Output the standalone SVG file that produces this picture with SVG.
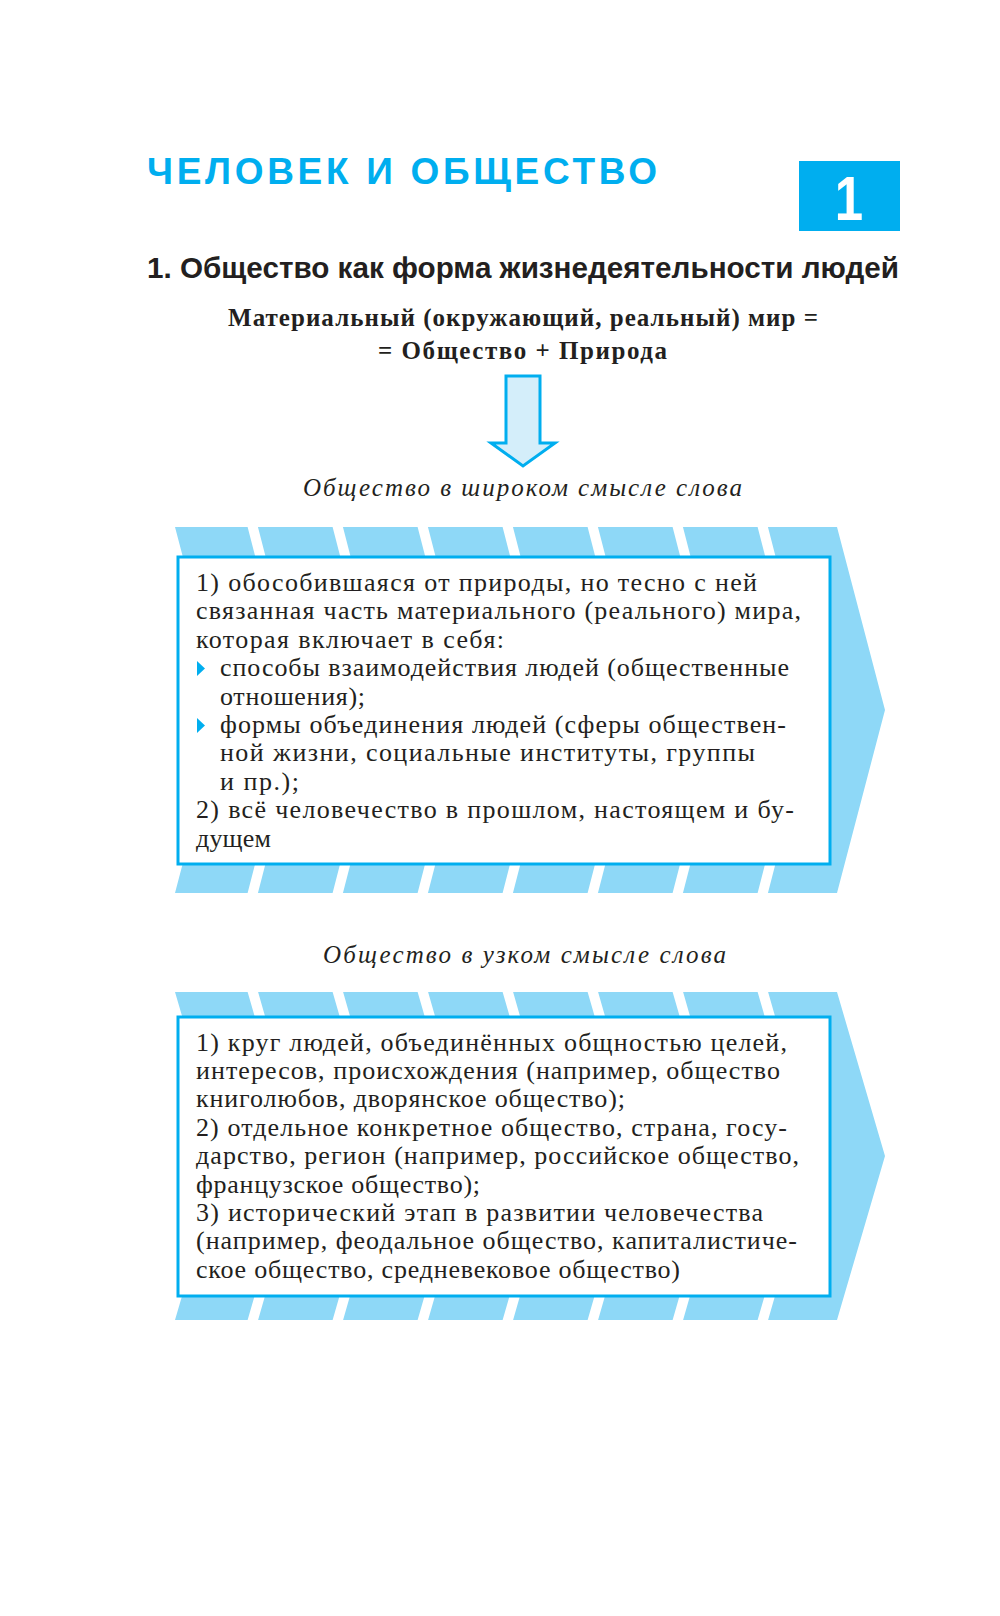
<svg xmlns="http://www.w3.org/2000/svg" width="1000" height="1616" viewBox="0 0 1000 1616">
<defs>
<style>
.title{font-family:"Liberation Sans",Arial,sans-serif;font-weight:bold;font-size:37px;fill:#00AEEF}
.badge{font-family:"Liberation Sans",Arial,sans-serif;font-weight:bold;font-size:60px;fill:#fff}
.head{font-family:"Liberation Sans",Arial,sans-serif;font-weight:bold;font-size:30px;fill:#231F20}
.formula{font-family:"Liberation Serif","Times New Roman",serif;font-weight:bold;font-size:25px;fill:#231F20}
.label{font-family:"Liberation Serif","Times New Roman",serif;font-style:italic;font-size:25px;fill:#231F20}
.body{font-family:"Liberation Serif","Times New Roman",serif;font-size:26px;fill:#231F20}
.band{fill:#8ED8F7}
.gap{fill:none;stroke:#fff;stroke-width:10}
.box{fill:#fff;stroke:#00AEEF;stroke-width:3}
.bullet{fill:#00AEEF}
.arrow{fill:#D4EEFA;stroke:#00AEEF;stroke-width:3;stroke-linejoin:miter}
</style>
</defs>
<rect width="1000" height="1616" fill="#fff"/>

<g id="title">
<text class="title" x="147" y="184" textLength="510" lengthAdjust="spacing">ЧЕЛОВЕК И ОБЩЕСТВО</text>
</g>
<g id="chapter-badge">
<rect x="799" y="161" width="101" height="70" fill="#00AEEF"/>
<text class="badge" transform="translate(849,220) scale(0.85,1.05)" x="0" y="0" text-anchor="middle">1</text>
</g>
<g id="heading">
<text class="head" x="147" y="278" textLength="752" lengthAdjust="spacingAndGlyphs">1. Общество как форма жизнедеятельности людей</text>
</g>
<g id="formula">
<text class="formula" x="228" y="326" textLength="590" lengthAdjust="spacing">Материальный (окружающий, реальный) мир =</text>
<text class="formula" x="378" y="359" textLength="289" lengthAdjust="spacing">= Общество + Природа</text>
</g>

<g id="connectors">
<polygon class="arrow" points="506,376 540,376 540,443 555,443 523,466 491,443 506,443"/>
</g>

<g id="label-broad">
<text class="label" x="303" y="496" textLength="439" lengthAdjust="spacing">Общество в широком смысле слова</text>
</g>

<g id="society-broad">
<polygon class="band" points="175,527 837,527 885,710 837,893 175,893 223,710"/>
<polyline class="gap" points="252,524 300,710 252,896"/>
<polyline class="gap" points="337,524 385,710 337,896"/>
<polyline class="gap" points="422,524 470,710 422,896"/>
<polyline class="gap" points="507,524 555,710 507,896"/>
<polyline class="gap" points="592,524 640,710 592,896"/>
<polyline class="gap" points="677,524 725,710 677,896"/>
<polyline class="gap" points="762,524 810,710 762,896"/>
<rect class="box" x="178" y="557" width="652" height="307"/>
<text class="body" x="196" y="591" textLength="561" lengthAdjust="spacing">1) обособившаяся от природы, но тесно с ней</text>
<text class="body" x="196" y="619.4" textLength="605" lengthAdjust="spacing">связанная часть материального (реального) мира,</text>
<text class="body" x="196" y="647.8" textLength="308" lengthAdjust="spacing">которая включает в себя:</text>
<polygon class="bullet" points="197,661 205,668.5 197,676"/>
<text class="body" x="220" y="676.2" textLength="569" lengthAdjust="spacing">способы взаимодействия людей (общественные</text>
<text class="body" x="220" y="704.6" textLength="145" lengthAdjust="spacing">отношения);</text>
<polygon class="bullet" points="197,718 205,725.5 197,733"/>
<text class="body" x="220" y="733" textLength="566" lengthAdjust="spacing">формы объединения людей (сферы обществен-</text>
<text class="body" x="220" y="761.4" textLength="535" lengthAdjust="spacing">ной жизни, социальные институты, группы</text>
<text class="body" x="220" y="789.8" textLength="79" lengthAdjust="spacing">и пр.);</text>
<text class="body" x="196" y="818.2" textLength="598" lengthAdjust="spacing">2) всё человечество в прошлом, настоящем и бу-</text>
<text class="body" x="196" y="846.6" textLength="75" lengthAdjust="spacing">дущем</text>
</g>

<g id="label-narrow">
<text class="label" x="323" y="963" textLength="403" lengthAdjust="spacing">Общество в узком смысле слова</text>
</g>

<g id="society-narrow">
<polygon class="band" points="175,992 837,992 885,1156 837,1320 175,1320 223,1156"/>
<polyline class="gap" points="252,989 300,1156 252,1323"/>
<polyline class="gap" points="337,989 385,1156 337,1323"/>
<polyline class="gap" points="422,989 470,1156 422,1323"/>
<polyline class="gap" points="507,989 555,1156 507,1323"/>
<polyline class="gap" points="592,989 640,1156 592,1323"/>
<polyline class="gap" points="677,989 725,1156 677,1323"/>
<polyline class="gap" points="762,989 810,1156 762,1323"/>
<rect class="box" x="178" y="1017" width="652" height="279"/>
<text class="body" x="196" y="1050.6" textLength="591" lengthAdjust="spacing">1) круг людей, объединённых общностью целей,</text>
<text class="body" x="196" y="1079" textLength="584" lengthAdjust="spacing">интересов, происхождения (например, общество</text>
<text class="body" x="196" y="1107.4" textLength="429" lengthAdjust="spacing">книголюбов, дворянское общество);</text>
<text class="body" x="196" y="1135.8" textLength="591" lengthAdjust="spacing">2) отдельное конкретное общество, страна, госу-</text>
<text class="body" x="196" y="1164.2" textLength="603" lengthAdjust="spacing">дарство, регион (например, российское общество,</text>
<text class="body" x="196" y="1192.6" textLength="284" lengthAdjust="spacing">французское общество);</text>
<text class="body" x="196" y="1221" textLength="567" lengthAdjust="spacing">3) исторический этап в развитии человечества</text>
<text class="body" x="196" y="1249.4" textLength="601" lengthAdjust="spacing">(например, феодальное общество, капиталистиче-</text>
<text class="body" x="196" y="1277.8" textLength="484" lengthAdjust="spacing">ское общество, средневековое общество)</text>
</g>
</svg>
